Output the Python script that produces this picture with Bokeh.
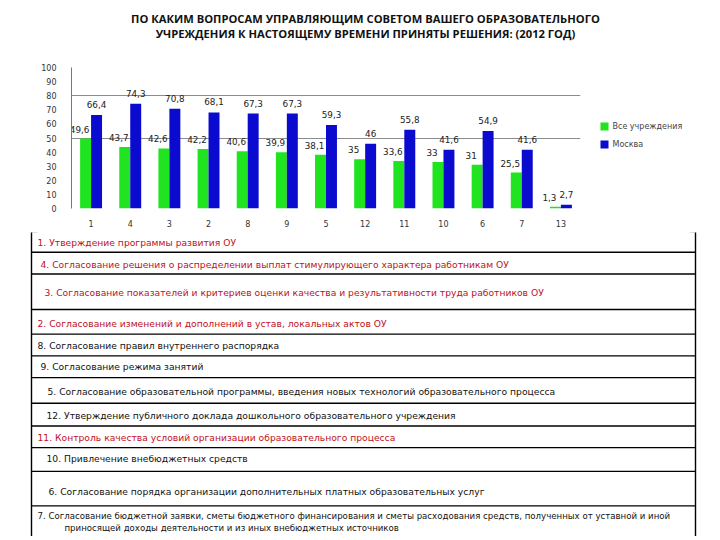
from bokeh.plotting import figure
from bokeh.models import ColumnDataSource, FactorRange, Range1d
from bokeh.transform import dodge
from bokeh.layouts import column, row
from bokeh.core.properties import value
from bokeh.embed import file_html
from bokeh.resources import INLINE

title_lines = ["ПО КАКИМ ВОПРОСАМ УПРАВЛЯЮЩИМ СОВЕТОМ ВАШЕГО ОБРАЗОВАТЕЛЬНОГО",
               "УЧРЕЖДЕНИЯ К НАСТОЯЩЕМУ ВРЕМЕНИ ПРИНЯТЫ РЕШЕНИЯ: (2012 ГОД)"]

questions = ["1", "4", "3", "2", "8", "9", "5", "12", "11", "10", "6", "7", "13"]
all_schools = [49.6, 43.7, 42.6, 42.2, 40.6, 39.9, 38.1, 35, 33.6, 33, 31, 25.5, 1.3]
moscow = [66.4, 74.3, 70.8, 68.1, 67.3, 67.3, 59.3, 46, 55.8, 41.6, 54.9, 41.6, 2.7]
series_names = ["Все учреждения", "Москва"]
y_ticks = [0, 10, 20, 30, 40, 50, 60, 70, 80, 90, 100]

# legend of the question numbers (table under the chart)
row_texts = [
    ["1. Утверждение программы развития ОУ"],
    ["4. Согласование решения о распределении выплат стимулирующего характера работникам ОУ"],
    ["3. Согласование показателей и критериев оценки качества и результативности труда работников ОУ"],
    ["2. Согласование изменений и дополнений в устав, локальных актов ОУ"],
    ["8. Согласование правил внутреннего распорядка"],
    ["9. Согласование режима занятий"],
    ["5. Согласование образовательной программы, введения новых технологий образовательного процесса"],
    ["12. Утверждение публичного доклада дошкольного образовательного учреждения"],
    ["11. Контроль качества условий организации образовательного процесса"],
    ["10. Привлечение внебюджетных средств"],
    ["6. Согласование  порядка организации дополнительных платных образовательных услуг"],
    ["7. Согласование бюджетной заявки, сметы бюджетного финансирования и сметы расходования средств, полученных от уставной и иной",
     "приносящей доходы деятельности и из иных внебюджетных источников"],
]
row_red = [True, True, True, True, False, False, False, False, True, False, False, False]

GREEN = "#1fe41f"
BLUE = "#0b0bd0"
RED = "#c0101c"
W = 716
CW = 590  # chart part of the middle row

def fmt(v):
    return ("%g" % v).replace(".", ",")

def blank(fig):
    fig.axis.visible = False
    fig.grid.visible = False
    fig.outline_line_color = None

# ---------------- title ----------------
h = figure(width=W, height=60, x_range=Range1d(0, W), y_range=Range1d(60, 0),
           output_backend="svg", toolbar_location=None, min_border=0, frame_align=False)
blank(h)
h.text(x=[365, 365], y=[18, 33], text=title_lines, text_align="center", text_baseline="middle",
       text_font=value("Open Sans"), text_font_size="11.2px", text_font_style="bold",
       text_color="#111111")

# ---------------- chart ----------------
src = ColumnDataSource(dict(q=questions, a=all_schools, m=moscow,
                            a_lbl=[fmt(v) for v in all_schools],
                            m_lbl=[fmt(v) for v in moscow]))

p = figure(width=CW, height=172, x_range=FactorRange(*questions, range_padding=0),
           y_range=Range1d(0, 100), output_backend="svg", toolbar_location=None,
           min_border_left=71, min_border_right=CW - 580, min_border_top=7, min_border_bottom=24,
           frame_align=False)
p.outline_line_color = None

p.vbar(x=dodge("q", -0.14, range=p.x_range), top="a", width=0.28, source=src,
       fill_color=GREEN, line_color=None)
p.vbar(x=dodge("q", 0.14, range=p.x_range), top="m", width=0.28, source=src,
       fill_color=BLUE, line_color=None)

lbl_kw = dict(text_align="center", text_baseline="bottom", text_font=value("DejaVu Sans"),
              text_font_size="8.8px", text_color="#222222", source=src)
p.text(x=dodge("q", -0.14, range=p.x_range), y="a", text="a_lbl", x_offset=-6, y_offset=-6, **lbl_kw)
p.text(x=dodge("q", 0.14, range=p.x_range), y="m", text="m_lbl", y_offset=-7, **lbl_kw)

p.xgrid.visible = False
p.ygrid.ticker = [50, 80]
p.ygrid.grid_line_color = "#8c8c8c"
p.ygrid.grid_line_width = 1.2

p.yaxis.ticker = y_ticks
p.yaxis.axis_line_color = "#777777"
p.yaxis.major_tick_line_color = None
p.yaxis.minor_tick_line_color = None
p.yaxis.major_label_standoff = 9
p.yaxis.major_label_text_font = "DejaVu Sans"
p.yaxis.major_label_text_font_size = "8px"
p.yaxis.major_label_text_color = "#333333"

p.xaxis.axis_line_color = None
p.xaxis.major_tick_line_color = None
p.xaxis.major_label_standoff = 5
p.xaxis.major_label_text_font = "DejaVu Sans"
p.xaxis.major_label_text_font_size = "8px"
p.xaxis.major_label_text_color = "#333333"

# series legend, drawn in its own small panel to the right of the chart
lg = figure(width=W - CW, height=172, x_range=Range1d(CW, W), y_range=Range1d(232, 60),
            output_backend="svg", toolbar_location=None, min_border=0, frame_align=False)
blank(lg)
lg.rect(x=[604, 604], y=[126, 144], width=8, height=8, fill_color=[GREEN, BLUE], line_color=None)
lg.text(x=[612, 612], y=[126, 144], text=series_names, text_align="left", text_baseline="middle",
        text_font=value("DejaVu Sans"), text_font_size="8px", text_color="#444444")

# ---------------- table ----------------
row_lines = [252, 274, 310, 335, 357, 379, 405, 428, 450, 474, 509]
text_x = [37, 40, 44, 37, 37, 40, 47, 46, 37, 46, 48, 37]
text_y = [242, 264, 293, 324, 346, 368, 393, 417, 440, 461, 494, 519]
x_left, x_right, y_top, y_bottom = 31, 695, 231, 540

tx, ty, tt, tc, ts = [], [], [], [], []
for i, lines in enumerate(row_texts):
    for j, s in enumerate(lines):
        tx.append(text_x[i] + (27 if j else 0))
        ty.append(text_y[i] + 12 * j)
        tt.append(s)
        tc.append(RED if row_red[i] else "#111111")
        ts.append("8.6px" if len(lines) > 1 else "9.2px")
tsrc = ColumnDataSource(dict(x=tx, y=ty, text=tt, color=tc, size=ts))

t = figure(width=W, height=304, x_range=Range1d(0, W), y_range=Range1d(540, 232),
           output_backend="svg", toolbar_location=None, min_border=0, frame_align=False)
blank(t)

t.segment(x0=[x_left] * len(row_lines), y0=row_lines, x1=[x_right] * len(row_lines), y1=row_lines,
          line_color="black", line_width=1.4)
t.segment(x0=[x_left, x_right, x_left, x_right - 6], y0=[y_top, y_top, y_top, y_top],
          x1=[x_left, x_right, x_left + 6, x_right], y1=[y_bottom, y_bottom, y_top, y_top],
          line_color="black", line_width=1.4)
t.text(x="x", y="y", text="text", text_color="color", text_font_size="size", source=tsrc,
       text_align="left", text_baseline="middle", text_font=value("DejaVu Sans"))

layout = column(h, row(p, lg, spacing=0), t, spacing=0)
open("out.html", "w").write(file_html(layout, INLINE))
